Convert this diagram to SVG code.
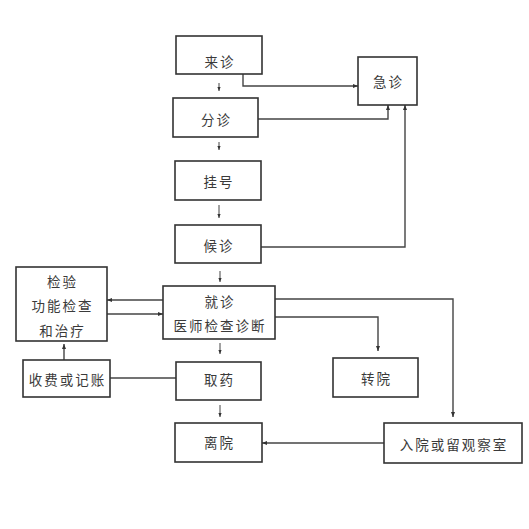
<svg xmlns="http://www.w3.org/2000/svg" width="529" height="529" viewBox="0 0 529 529">
<style>
.box{fill:#fff;stroke:#333;stroke-width:1.6}
.t{font-family:"Noto Sans CJK SC","Noto Sans",sans-serif;font-size:13.5px;letter-spacing:2px;fill:#3a3a3a;text-anchor:middle;dominant-baseline:central}
.c{fill:none;stroke:#444;stroke-width:1.4}
.s{fill:none;stroke:#444;stroke-width:1}
</style>
<defs>
<marker id="a" viewBox="0 0 10 10" refX="10" refY="5" markerWidth="5" markerHeight="5" orient="auto" markerUnits="userSpaceOnUse"><path d="M0,1L10,5L0,9z" fill="#333"/></marker>
<marker id="b" viewBox="0 0 10 10" refX="10" refY="5" markerWidth="4" markerHeight="4" orient="auto" markerUnits="userSpaceOnUse"><path d="M0,1L10,5L0,9z" fill="#333"/></marker>
</defs>
<rect width="529" height="529" fill="#fff"/>
<g id="connectors">
<path class="c" d="M243,74V86H358" marker-end="url(#a)"/>
<path class="c" d="M258,119H388V105" marker-end="url(#a)"/>
<path class="c" d="M261,247H405V105" marker-end="url(#a)"/>
<path class="s" d="M219,83V91" marker-end="url(#b)"/>
<path class="s" d="M219,142V150" marker-end="url(#b)"/>
<path class="s" d="M219,205V218" marker-end="url(#b)"/>
<path class="s" d="M220,271V282" marker-end="url(#b)"/>
<path class="s" d="M220,343V354" marker-end="url(#b)"/>
<path class="s" d="M220,405V417" marker-end="url(#b)"/>
<path class="c" d="M163,300H107" marker-end="url(#a)"/>
<path class="c" d="M107,314H163" marker-end="url(#a)"/>
<path class="c" d="M64,360V344" marker-end="url(#a)"/>
<path class="c" d="M176,378H110"/>
<path class="c" d="M275,299H453V417" marker-end="url(#a)"/>
<path class="c" d="M275,317H378V351" marker-end="url(#a)"/>
<path class="c" d="M384,443H262" marker-end="url(#a)"/>
</g>
<g id="laizhen"><rect class="box" x="176" y="36" width="86" height="38"/><text class="t" x="220" y="61">来诊</text></g>
<g id="jizhen"><rect class="box" x="358" y="57" width="59" height="48"/><text class="t" x="388.5" y="81">急诊</text></g>
<g id="fenzhen"><rect class="box" x="173" y="98" width="85" height="39"/><text class="t" x="216.5" y="119">分诊</text></g>
<g id="guahao"><rect class="box" x="175" y="161" width="86" height="39"/><text class="t" x="219" y="181">挂号</text></g>
<g id="houzhen"><rect class="box" x="175" y="225" width="86" height="38"/><text class="t" x="219" y="245">候诊</text></g>
<g id="jianyan"><rect class="box" x="16" y="267" width="91" height="74"/><text class="t" x="62.5" y="281">检验</text><text class="t" x="62.5" y="305">功能检查</text><text class="t" x="62.5" y="330">和治疗</text></g>
<g id="jiuzhen"><rect class="box" x="163" y="286" width="112" height="53"/><text class="t" x="220" y="301">就诊</text><text class="t" x="220" y="325">医师检查诊断</text></g>
<g id="shoufei"><rect class="box" x="23" y="360" width="87" height="37"/><text class="t" x="67.5" y="379">收费或记账</text></g>
<g id="quyao"><rect class="box" x="176" y="362" width="85" height="38"/><text class="t" x="219.5" y="379">取药</text></g>
<g id="zhuanyuan"><rect class="box" x="333" y="358" width="85" height="39"/><text class="t" x="376.5" y="378">转院</text></g>
<g id="ruyuan"><rect class="box" x="384" y="423" width="138" height="40"/><text class="t" x="454" y="444">入院或留观察室</text></g>
<g id="liyuan"><rect class="box" x="175" y="423" width="87" height="39"/><text class="t" x="219.5" y="442">离院</text></g>
</svg>
